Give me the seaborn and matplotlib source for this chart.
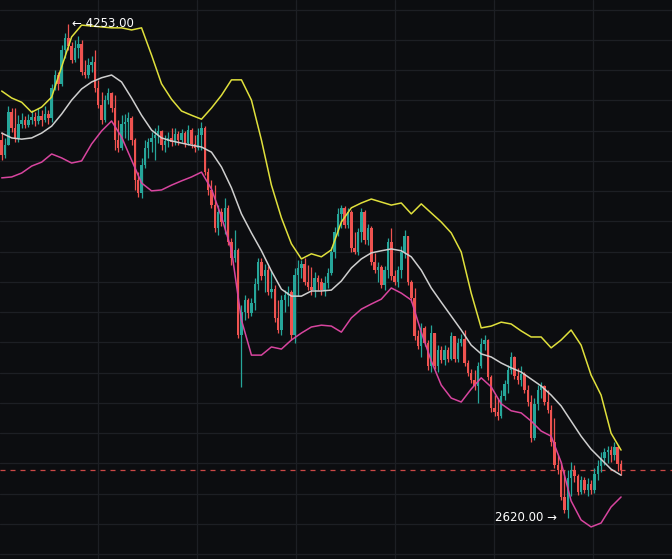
import numpy as np
import pandas as pd
import matplotlib
matplotlib.use("Agg")
import matplotlib.pyplot as plt
import seaborn as sns

# ---------------- data (prices) ----------------
first_open = 3869
close = [3819, 3852, 3961, 3909, 3876, 3922, 3935, 3918, 3935, 3945,
         3932, 3948, 3935, 3955, 3942, 4042, 4084, 4055, 4167, 4207,
         4180, 4134, 4174, 4187, 4094, 4084, 4117, 4127, 4042, 3984,
         3935, 4001, 4024, 3975, 3869, 3843, 3922, 3928, 3942, 3869,
         3737, 3694, 3786, 3843, 3862, 3876, 3885, 3899, 3852, 3866,
         3876, 3862, 3889, 3869, 3892, 3859, 3902, 3856, 3843, 3885,
         3909, 3763, 3704, 3654, 3579, 3631, 3598, 3645, 3532, 3480,
         3506, 3224, 3300, 3340, 3297, 3330, 3393, 3465, 3419, 3439,
         3366, 3376, 3281, 3241, 3340, 3356, 3366, 3224, 3422, 3446,
         3459, 3399, 3383, 3373, 3413, 3399, 3373, 3396, 3429, 3499,
         3565, 3625, 3645, 3588, 3631, 3513, 3499, 3565, 3631, 3539,
         3579, 3465, 3439, 3449, 3389, 3439, 3532, 3419, 3399, 3439,
         3499, 3552, 3399, 3347, 3221, 3188, 3248, 3198, 3122, 3231,
         3122, 3175, 3142, 3175, 3145, 3221, 3145, 3198, 3211, 3132,
         3099, 3076, 3056, 3122, 3195, 3208, 3086, 2984, 2970, 2957,
         3023, 3063, 3109, 3152, 3089, 3076, 3096, 3043, 3003, 2884,
         2997, 3043, 3056, 3003, 2977, 2870, 2794, 2778, 2689, 2646,
         2752, 2778, 2758, 2705, 2745, 2712, 2732, 2712, 2765, 2791,
         2818, 2837, 2844, 2827, 2854, 2798, 2778]
high = [3895, 3876, 3981, 3975, 3975, 3951, 3958, 3948, 3955, 3968,
        3961, 3975, 3968, 3981, 3968, 4055, 4101, 4094, 4183, 4223,
        4253, 4193, 4200, 4213, 4200, 4134, 4141, 4147, 4167, 4068,
        4027, 4017, 4042, 4027, 4017, 3935, 3951, 3955, 3961, 3948,
        3876, 3763, 3810, 3869, 3876, 3895, 3909, 3918, 3902, 3885,
        3895, 3909, 3909, 3899, 3905, 3899, 3918, 3909, 3885, 3909,
        3928, 3915, 3777, 3737, 3720, 3654, 3645, 3678, 3654, 3546,
        3572, 3513, 3323, 3356, 3347, 3347, 3413, 3480, 3480, 3459,
        3452, 3439, 3389, 3340, 3356, 3373, 3386, 3373, 3446, 3472,
        3472, 3480, 3455, 3449, 3432, 3422, 3413, 3419, 3446, 3516,
        3582, 3645, 3654, 3651, 3645, 3638, 3565, 3579, 3645, 3638,
        3592, 3585, 3496, 3465, 3455, 3452, 3546, 3579, 3439, 3452,
        3519, 3572, 3546, 3406, 3380, 3241, 3264, 3254, 3208, 3257,
        3224, 3191, 3188, 3191, 3185, 3234, 3208, 3215, 3228, 3241,
        3142, 3112, 3109, 3135, 3215, 3224, 3211, 3092, 3026, 3016,
        3043, 3076, 3125, 3168, 3155, 3116, 3122, 3102, 3059, 3026,
        3016, 3059, 3069, 3059, 3043, 2993, 2950, 2827, 2804, 2778,
        2778, 2804, 2794, 2765, 2758, 2755, 2752, 2745, 2784, 2811,
        2837, 2850, 2857, 2857, 2870, 2860, 2811]
low = [3803, 3810, 3869, 3895, 3862, 3862, 3909, 3909, 3912, 3922,
       3915, 3922, 3915, 3928, 3922, 3928, 4034, 4034, 4048, 4141,
       4167, 4124, 4127, 4141, 4084, 4075, 4075, 4094, 4027, 3975,
       3922, 3928, 3988, 3961, 3836, 3829, 3836, 3876, 3869, 3852,
       3704, 3681, 3678, 3777, 3810, 3829, 3803, 3859, 3836, 3829,
       3846, 3849, 3852, 3852, 3862, 3846, 3852, 3843, 3829, 3836,
       3836, 3753, 3687, 3645, 3565, 3555, 3585, 3559, 3522, 3455,
       3465, 3215, 3053, 3274, 3281, 3287, 3307, 3373, 3406, 3366,
       3356, 3347, 3267, 3231, 3224, 3300, 3320, 3208, 3198, 3353,
       3413, 3389, 3373, 3356, 3350, 3373, 3356, 3353, 3380, 3422,
       3480, 3552, 3579, 3579, 3579, 3499, 3493, 3489, 3532, 3526,
       3522, 3455, 3429, 3399, 3380, 3373, 3413, 3406, 3389, 3383,
       3413, 3480, 3389, 3333, 3208, 3178, 3152, 3188, 3109, 3102,
       3112, 3102, 3132, 3125, 3135, 3142, 3135, 3135, 3188, 3122,
       3089, 3066, 3043, 3000, 3116, 3175, 3076, 2970, 2957, 2943,
       2950, 3010, 3033, 3096, 3079, 3063, 3056, 3033, 2990, 2870,
       2877, 2977, 3016, 2993, 2967, 2857, 2784, 2765, 2679, 2636,
       2620, 2692, 2738, 2695, 2699, 2702, 2692, 2699, 2702, 2745,
       2771, 2794, 2801, 2804, 2811, 2775, 2761]

# Bollinger bands, one reading every third candle
band_step = 3
upper = [4031, 4008, 3994, 3961, 3978, 4011, 4111, 4210, 4249, 4246,
         4243, 4240, 4240, 4233, 4240, 4150, 4055, 4004, 3965, 3951,
         3938, 3975, 4017, 4068, 4068, 4001, 3869, 3720, 3612, 3526,
         3476, 3493, 3483, 3506, 3598, 3645, 3661, 3674, 3664, 3654,
         3661, 3625, 3658, 3628, 3598, 3562, 3499, 3363, 3248, 3254,
         3267, 3261, 3238, 3218, 3218, 3182, 3208, 3241, 3191, 3092,
         3026, 2900, 2844]
middle = [3892, 3876, 3872, 3876, 3892, 3915, 3955, 4001, 4038, 4061,
          4075, 4084, 4061, 4008, 3951, 3902, 3876, 3866, 3859, 3852,
          3846, 3829, 3780, 3711, 3625, 3562, 3503, 3436, 3376, 3353,
          3353, 3370, 3370, 3373, 3403, 3446, 3476, 3496, 3503, 3509,
          3503, 3483, 3439, 3380, 3333, 3287, 3241, 3191, 3162, 3152,
          3132, 3116, 3102, 3079, 3056, 3026, 2990, 2940, 2890, 2847,
          2814, 2781, 2761]
lower = [3744, 3747, 3760, 3783, 3796, 3823, 3810, 3793, 3800, 3856,
         3899, 3932, 3879, 3803, 3727, 3701, 3704, 3720, 3734, 3747,
         3763, 3707, 3615, 3506, 3274, 3158, 3158, 3185, 3178, 3208,
         3231, 3251, 3257, 3254, 3234, 3281, 3310, 3327, 3343, 3380,
         3363, 3340, 3234, 3139, 3059, 3016, 3003, 3046, 3083, 3053,
         2997, 2974, 2967, 2940, 2907, 2890, 2804, 2676, 2613, 2590,
         2603, 2656, 2689]

high_text = "\u2190 4253.00"
low_text = "2620.00 \u2192"

# ---------------- style ----------------
BG = "#0c0d10"
GRID = "#1d1f24"
UP = "#26a69a"
DOWN = "#ef5350"

sns.set_theme(style="dark", rc={"axes.facecolor": BG, "figure.facecolor": BG})
plt.rcParams["font.family"] = ["DejaVu Sans"]

fig = plt.figure(figsize=(6.72, 5.59), dpi=100)
ax = fig.add_axes([0, 0, 1, 1])
ax.set_facecolor(BG)

close_a = np.array(close, dtype=float)
high_a = np.array(high, dtype=float)
low_a = np.array(low, dtype=float)
open_a = np.r_[first_open, close_a[:-1]]
n = len(close_a)
idx = np.arange(n)
hi = np.maximum.reduce([high_a, open_a, close_a])
lo = np.minimum.reduce([low_a, open_a, close_a])
is_up = close_a >= open_a
cols = np.where(is_up, UP, DOWN)

# grid
ax.set_xlim(-0.51, 201.3)
ax.set_ylim(2484, 4332)
ax.set_yticks(np.arange(2500, 4400, 100))
ax.set_xticks(np.arange(28.9, 200, 29.73))
ax.grid(True, color=GRID, linewidth=0.9)
ax.tick_params(left=False, bottom=False, labelleft=False, labelbottom=False)
for s in ax.spines.values():
    s.set_visible(False)

# wicks and bodies
ax.vlines(idx, lo, hi, colors=cols, linewidth=0.9, zorder=2)
body_bottom = np.minimum(open_a, close_a)
body_h = np.maximum(np.abs(close_a - open_a), 3.0)
ax.bar(idx, body_h, bottom=body_bottom, width=0.74, color=cols, linewidth=0, zorder=3)

# bands
bidx = np.arange(len(upper)) * band_step
bands = pd.concat([
    pd.DataFrame({"i": bidx, "price": upper, "band": "upper"}),
    pd.DataFrame({"i": bidx, "price": middle, "band": "middle"}),
    pd.DataFrame({"i": bidx, "price": lower, "band": "lower"}),
])
sns.lineplot(data=bands, x="i", y="price", hue="band", estimator=None, sort=False,
             palette={"upper": "#e0e03c", "middle": "#cfcfcf", "lower": "#d8459f"},
             linewidth=1.1, legend=False, ax=ax, zorder=4)
ax.set_xlabel("")
ax.set_ylabel("")

# last price dashed line
ax.axhline(close_a[-1], color=DOWN, linestyle=(0, (4, 4)), linewidth=0.9, alpha=0.85, zorder=1)

# high / low annotations
i_hi = int(np.argmax(hi))
i_lo = int(np.argmin(lo))
ax.annotate(high_text, xy=(i_hi, hi[i_hi]), xytext=(3, 0), textcoords="offset points",
            ha="left", va="center", color="white", fontsize=8.5, zorder=6)
ax.annotate(low_text, xy=(i_lo, lo[i_lo]), xytext=(-8, 0), textcoords="offset points",
            ha="right", va="center", color="white", fontsize=8.5, zorder=6)

fig.savefig("out.png", dpi=100, facecolor=BG)
